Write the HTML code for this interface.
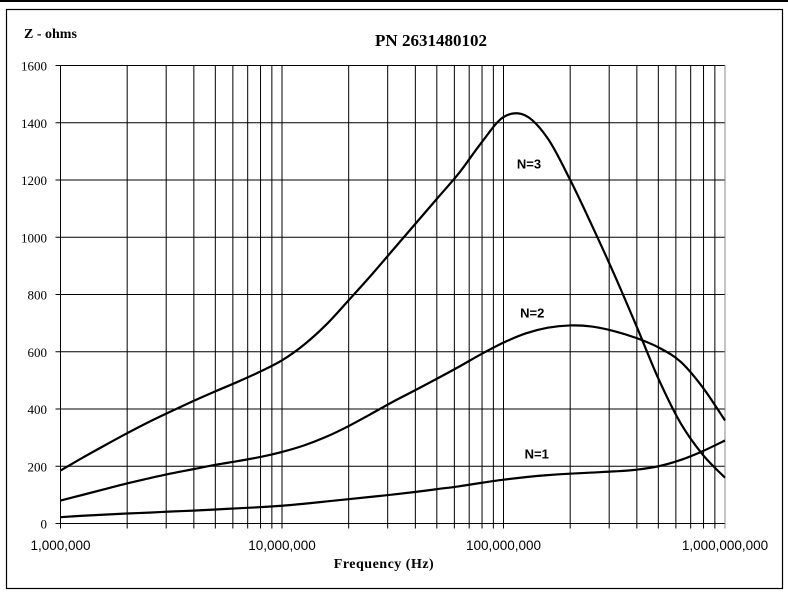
<!DOCTYPE html>
<html><head><meta charset="utf-8"><style>
html,body{margin:0;padding:0;background:#fff}
svg{display:block}
</style></head><body>
<svg width="788" height="594" viewBox="0 0 788 594" xmlns="http://www.w3.org/2000/svg">
<rect x="0" y="0" width="788" height="2" fill="#000"/>
<rect x="6.5" y="9.5" width="776" height="579" fill="none" stroke="#000" stroke-width="1.2"/>
<text x="431" y="46" text-anchor="middle" font-family="Liberation Serif, serif" font-weight="bold" font-size="17">PN 2631480102</text>
<text x="24" y="38" font-family="Liberation Serif, serif" font-weight="bold" font-size="14">Z - ohms</text>
<text x="384" y="568" text-anchor="middle" font-family="Liberation Serif, serif" font-weight="bold" font-size="14" letter-spacing="0.5">Frequency (Hz)</text>
<g id="grid"></g>
<g id="curves"></g>
<g id="labels"></g>
</svg>
<script>
const yTicks=[0,200,400,600,800,1000,1200,1400,1600];
const xTickLabels=["1,000,000","10,000,000","100,000,000","1,000,000,000"];
const xTickFreqs=[1e6,1e7,1e8,1e9];
const seriesNames=["N=1","N=2","N=3"];
const logF=[0,0.1,0.2,0.3,0.4,0.5,0.6,0.7,0.8,0.9,1.0,1.1,1.2,1.3,1.4,1.5,1.6,1.7,1.8,1.9,2.0,2.1,2.2,2.3,2.4,2.5,2.6,2.7,2.8,2.9,3.0];
const z1=[22,27,31,35,38,42,45,49,53,57,62,69,77,85,93,101,110,120,130,142,153,162,169,174,178,182,188,200,222,253,290];
const z2=[80,100,120,140,158,175,190,205,218,232,250,273,303,340,382,425,465,506,548,592,632,664,684,692,688,672,648,615,565,475,360];
const z3=[185,230,273,315,355,392,428,462,495,530,570,625,695,779,865,955,1045,1135,1225,1330,1420,1425,1345,1202,1040,870,690,505,350,240,160];
const labelPos=[[2.15,227,"N=1"],[2.13,720,"N=2"],[2.115,1240,"N=3"]];

const X0=60.5,X1=725,Y0=523.5,Y1=65.5;
const xs=lf=>X0+(X1-X0)*lf/3;
const ys=v=>Y0-(Y0-Y1)*v/1600;
const NS="http://www.w3.org/2000/svg";
function mk(tag,attrs,parent){const e=document.createElementNS(NS,tag);for(const k in attrs)e.setAttribute(k,attrs[k]);parent.appendChild(e);return e;}
const grid=document.getElementById('grid');
yTicks.forEach(v=>{
 const l=mk('line',{x1:X0-5,x2:X1,y1:ys(v),y2:ys(v),stroke:'#000','stroke-width':1},grid);
 
 
 const t=mk('text',{x:47,y:ys(v)+5,'text-anchor':'end','font-family':'Liberation Serif, serif','font-size':13},grid);
 t.textContent=v;
 
 
});
for(let d=0;d<3;d++){for(let m=1;m<=10;m++){
 if(d>0&&m===1)continue;
 const lf=d+Math.log10(m);
 const l=mk('line',{x1:xs(lf),x2:xs(lf),y1:Y1,y2:Y0+5,stroke:(lf===3)?'#888':'#000','stroke-width':1},grid);
 
 
}}
xTickFreqs.forEach((f,i)=>{
 const t=mk('text',{x:xs(Math.log10(f)-6),y:550,'text-anchor':'middle','font-family':'Liberation Sans, sans-serif','font-size':13.5},grid);
 t.textContent=xTickLabels[i];
 
 
});
function pathD(lx,vz){
 const p=lx.map((l,i)=>[xs(l),ys(vz[i])]);
 let d='M'+p[0][0]+','+p[0][1];
 for(let i=0;i<p.length-1;i++){
  const p0=p[Math.max(0,i-1)],p1=p[i],p2=p[i+1],p3=p[Math.min(p.length-1,i+2)];
  const c1=[p1[0]+(p2[0]-p0[0])/6,p1[1]+(p2[1]-p0[1])/6];
  const c2=[p2[0]-(p3[0]-p1[0])/6,p2[1]-(p3[1]-p1[1])/6];
  d+=' C'+c1+' '+c2+' '+p2;
 }
 return d;
}
const curves=document.getElementById('curves');
[z1,z2,z3].forEach((s,i)=>{
 const p=mk('path',{d:pathD(logF,s),fill:'none',stroke:'#000','stroke-width':2.2},curves);
 
 
});
const labels=document.getElementById('labels');
labelPos.forEach(lp=>{
 const t=mk('text',{x:xs(lp[0]),y:ys(lp[1]),'text-anchor':'middle','font-family':'Liberation Sans, sans-serif','font-weight':'bold','font-size':13},labels);
 t.textContent=lp[2];
 
 
});
</script>
</body></html>
